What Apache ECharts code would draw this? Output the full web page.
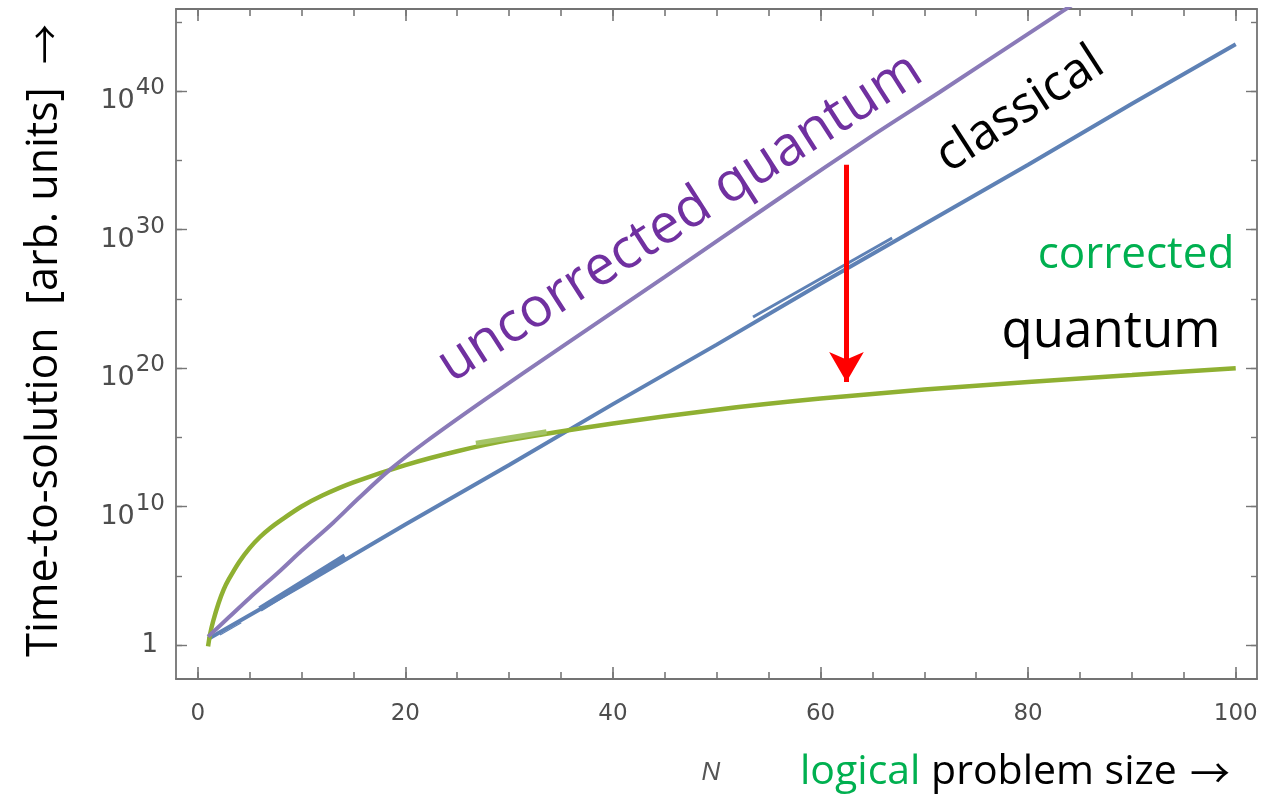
<!DOCTYPE html>
<html>
<head>
<meta charset="utf-8">
<script src="https://cdn.jsdelivr.net/npm/echarts@6/dist/echarts.min.js"></script>
<style>
  html, body { margin: 0; padding: 0; background: #fff; }
  #chart { width: 1268px; height: 794px; }
</style>
</head>
<body>
<div id="chart"></div>
<script>
// N on x, log10(time) on y (plotted as decades, labelled as powers of ten)
var nClassical = [1, 10, 20, 30, 40, 50, 60, 70, 80, 90, 100];
var classical = [0.43, 4.3, 8.7, 13.0, 17.4, 21.7, 26.1, 30.4, 34.7, 39.1, 43.4];

var nCorrected = [1, 1.2, 1.5, 2, 2.5, 3, 4, 5, 6, 7, 8, 10, 12, 15, 20, 25, 30, 40, 50, 60, 70, 80, 90, 100];
var corrected = [-0.1, 0.8, 1.75, 3.0, 4.0, 4.75, 6.0, 7.0, 7.8, 8.45, 9.0, 10.0, 10.8, 11.75, 13.0, 14.0, 14.8, 16.0, 17.0, 17.8, 18.45, 19.0, 19.5, 20.0];

var nUncorrected = [1, 3, 5, 8, 10, 13, 15.5, 18.5, 22, 27.8, 35, 45, 55.8, 65, 71.5, 81.1, 86];
var uncorrected = [0.6, 2.0, 3.4, 5.4, 6.8, 8.8, 10.6, 12.65, 14.7, 17.8, 21.5, 26.6, 32.15, 36.8, 39.95, 44.7, 47.1];

// little doubled segments that the original plot has
var nBlueBitA = [6.0, 14.2], blueBitA = [2.6, 6.4];
var nBlueBitB = [53.5, 66.9], blueBitB = [23.7, 29.4];
var nBlueThin = [2.15, 4.2], blueThin = [0.72, 1.61];
var nGreenBit = [26.8, 33.6], greenBit = [14.57, 15.4];

var arrowN = 62.5, arrowFrom = 34.7, arrowTo = 19.0;

var xMajor = [0, 20, 40, 60, 80, 100];
var xMinor = [0, 5, 10, 15, 20, 25, 30, 35, 40, 45, 50, 55, 60, 65, 70, 75, 80, 85, 90, 95, 100];
var yMajor = [0, 10, 20, 30, 40];
var yMinor = [0, 5, 10, 15, 20, 25, 30, 35, 40, 45];

function pairs(xs, ys) {
  return xs.map(function (x, i) { return [x, ys[i]]; });
}

var frame = '#737373';
var tickCol = '#777777';
var labCol = '#4d4d4d';

function xAx(grid, pos, ticks, len, labels) {
  return {
    type: 'value', gridIndex: grid, position: pos, min: -2.09, max: 102.05,
    axisLine: { show: grid === 0, onZero: false, lineStyle: { color: frame, width: 1.8 } },
    axisTick: { show: true, inside: true, length: len, customValues: ticks, lineStyle: { color: tickCol, width: 1.6 } },
    axisLabel: labels ? {
      show: true, customValues: xMajor, margin: 24, color: labCol,
      fontFamily: 'DejaVu Sans', fontSize: 23
    } : { show: false },
    splitLine: { show: false }
  };
}
function yAx(grid, pos, ticks, len, labels) {
  return {
    type: 'value', gridIndex: grid, position: pos, min: -2.46, max: 45.95,
    axisLine: { show: grid === 0, onZero: false, lineStyle: { color: frame, width: 1.8 } },
    axisTick: { show: true, inside: true, length: len, customValues: ticks, lineStyle: { color: tickCol, width: 1.4 } },
    axisLabel: labels ? {
      show: true, customValues: yMajor, margin: 11, color: labCol,
      formatter: function (v) { return v === 0 ? '{o|1}' : '{b|10}{s|' + v + '}'; },
      rich: {
        o: { fontFamily: 'DejaVu Sans', fontSize: 26, color: labCol, padding: [0, 7, 0, 0] },
        b: { fontFamily: 'DejaVu Sans', fontSize: 27, color: labCol, lineHeight: 46, padding: [20, 0, 0, 0] },
        s: { fontFamily: 'DejaVu Sans', fontSize: 23, color: labCol, lineHeight: 46, padding: [0, 0, 6, 1] }
      }
    } : { show: false },
    splitLine: { show: false }
  };
}

var gridBox = { left: 176, top: 9, right: 11, bottom: 115 };

var chart = echarts.init(document.getElementById('chart'), null, { renderer: 'canvas' });

var line = function (name, xs, ys, color, width, z, smooth) {
  return {
    name: name, type: 'line', xAxisIndex: 0, yAxisIndex: 0,
    data: pairs(xs, ys), showSymbol: false, smooth: smooth, z: z,
    lineStyle: { color: color, width: width }, silent: true, animation: false
  };
};

var option = {
  animation: false,
  grid: [
    Object.assign({ containLabel: false }, gridBox),
    Object.assign({ containLabel: false }, gridBox)
  ],
  xAxis: [
    xAx(0, 'bottom', xMajor, 12, true),
    xAx(0, 'top', xMajor, 12, false),
    xAx(1, 'bottom', xMinor, 7, false),
    xAx(1, 'top', xMinor, 7, false)
  ],
  yAxis: [
    yAx(0, 'left', yMajor, 11, true),
    yAx(0, 'right', yMajor, 11, false),
    yAx(1, 'left', yMinor, 6, false),
    yAx(1, 'right', yMinor, 6, false)
  ],
  series: [
    line('classical', nClassical, classical, '#5e81b5', 4, 2, false),
    line('classical bit a', nBlueBitA, blueBitA, '#5e81b5', 6, 2, false),
    line('classical bit b', nBlueBitB, blueBitB, '#5e81b5', 3, 2, false),
    line('classical thin', nBlueThin, blueThin, '#5e81b5', 1.2, 2, false),
    line('corrected quantum', nCorrected, corrected, '#8fb032', 4.5, 3, 0.3),
    line('corrected bit', nGreenBit, greenBit, '#a4c466', 5, 3, false),
    Object.assign(line('uncorrected quantum', nUncorrected, uncorrected, '#8a7ab8', 4, 4, 0.3), {
      markLine: {
        silent: true, animation: false,
        symbol: ['none', 'arrow'], symbolSize: [26, 30],
        lineStyle: { color: '#ff0000', width: 5, type: 'solid' },
        label: { show: false },
        emphasis: { disabled: true },
        data: [[{ coord: [arrowN, arrowFrom] }, { coord: [arrowN, arrowTo] }]]
      }
    })
  ],
  graphic: [
    {
      type: 'text', x: 45, y: 372, rotation: Math.PI / 2,
      style: {
        text: 'Time-to-solution  [arb. units]', fill: '#000',
        font: '43px "Open Sans"', align: 'center', verticalAlign: 'middle'
      }
    },
    {
      type: 'text', x: 45, y: 44, rotation: Math.PI / 2,
      style: {
        text: '\u2192', fill: '#000',
        font: '40px "Noto Sans CJK SC"', align: 'center', verticalAlign: 'middle'
      }
    },
    {
      type: 'text', x: 711, y: 773,
      style: {
        text: 'N', fill: '#555', font: 'italic 26px "Liberation Sans"',
        align: 'center', verticalAlign: 'middle'
      }
    },
    {
      type: 'text', x: 800, y: 772,
      style: {
        text: '{g|logical}{k| problem size}',
        align: 'left', verticalAlign: 'middle',
        rich: {
          g: { fill: '#00b050', font: '41px "Open Sans"' },
          k: { fill: '#000', font: '41px "Open Sans"' }
        }
      }
    },
    {
      type: 'text', x: 1210, y: 773,
      style: {
        text: '\u2192', fill: '#000',
        font: '40px "Noto Sans CJK SC"', align: 'center', verticalAlign: 'middle'
      }
    },
    {
      type: 'text', x: 680, y: 218, rotation: 32.7 * Math.PI / 180,
      style: {
        text: 'uncorrected quantum', fill: '#7030a0', font: '55px "Open Sans"',
        align: 'center', verticalAlign: 'middle'
      }
    },
    {
      type: 'text', x: 1020, y: 110, rotation: 33 * Math.PI / 180,
      style: {
        text: 'classical', fill: '#000', font: '50px "Open Sans"',
        align: 'center', verticalAlign: 'middle'
      }
    },
    {
      type: 'text', x: 1136, y: 255,
      style: {
        text: 'corrected', fill: '#00b050', font: '44px "Open Sans"',
        align: 'center', verticalAlign: 'middle'
      }
    },
    {
      type: 'text', x: 1111, y: 332,
      style: {
        text: 'quantum', fill: '#000', font: '51px "Open Sans"',
        align: 'center', verticalAlign: 'middle'
      }
    }
  ]
};

chart.setOption(option);
</script>
</body>
</html>
